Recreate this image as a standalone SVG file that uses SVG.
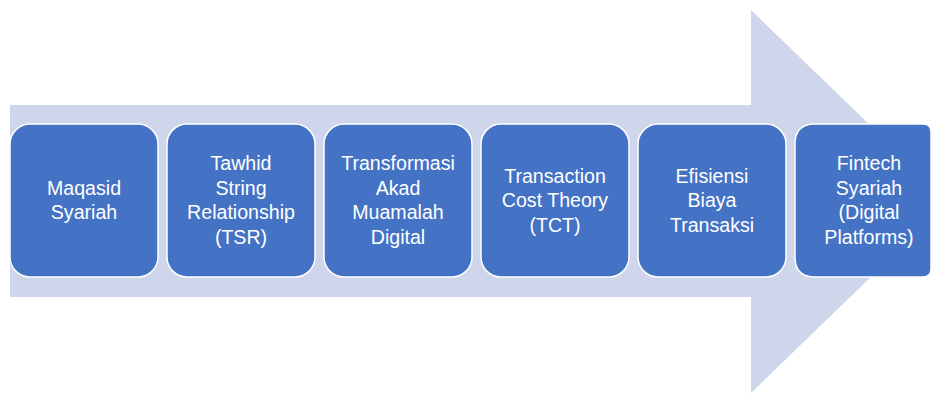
<svg xmlns="http://www.w3.org/2000/svg" width="931" height="394" viewBox="0 0 931 394">
<style>
.box{fill:#4472C4;stroke:#FFFFFF;stroke-width:1.5}
.t{font-family:"Liberation Sans",Arial,sans-serif;font-size:19.6px;fill:#FFFFFF;text-anchor:middle}
</style>
<rect width="931" height="394" fill="#FFFFFF"/>
<g id="arrow">
<path d="M10,105 L751,105 L751,10 L949,201.5 L751,393 L751,297 L10,297 Z" fill="#CFD5EA"/>
</g>
<g id="connectors"></g>
<g id="n1">
<rect class="box" x="10" y="124" width="148" height="153" rx="20"/>
<text class="t" x="84" y="194.8">Maqasid</text>
<text class="t" x="84" y="219.3">Syariah</text>
</g>
<g id="n2">
<rect class="box" x="167" y="124" width="148" height="153" rx="20"/>
<text class="t" x="241" y="170.3">Tawhid</text>
<text class="t" x="241" y="194.8">String</text>
<text class="t" x="241" y="219.3">Relationship</text>
<text class="t" x="241" y="243.8">(TSR)</text>
</g>
<g id="n3">
<rect class="box" x="324" y="124" width="148" height="153" rx="20"/>
<text class="t" x="398" y="170.3">Transformasi</text>
<text class="t" x="398" y="194.8">Akad</text>
<text class="t" x="398" y="219.3">Muamalah</text>
<text class="t" x="398" y="243.8">Digital</text>
</g>
<g id="n4">
<rect class="box" x="481" y="124" width="148" height="153" rx="20"/>
<text class="t" x="555" y="182.5">Transaction</text>
<text class="t" x="555" y="207">Cost Theory</text>
<text class="t" x="555" y="231.5">(TCT)</text>
</g>
<g id="n5">
<rect class="box" x="638" y="124" width="148" height="153" rx="20"/>
<text class="t" x="712" y="182.5">Efisiensi</text>
<text class="t" x="712" y="207">Biaya</text>
<text class="t" x="712" y="231.5">Transaksi</text>
</g>
<g id="n6">
<path class="box" d="M815,124 L923,124 Q931,124 931,132 L931,269 Q931,277 923,277 L815,277 Q795,277 795,257 L795,144 Q795,124 815,124 Z"/>
<text class="t" x="869" y="170.3">Fintech</text>
<text class="t" x="869" y="194.8">Syariah</text>
<text class="t" x="869" y="219.3">(Digital</text>
<text class="t" x="869" y="243.8">Platforms)</text>
</g>
</svg>
